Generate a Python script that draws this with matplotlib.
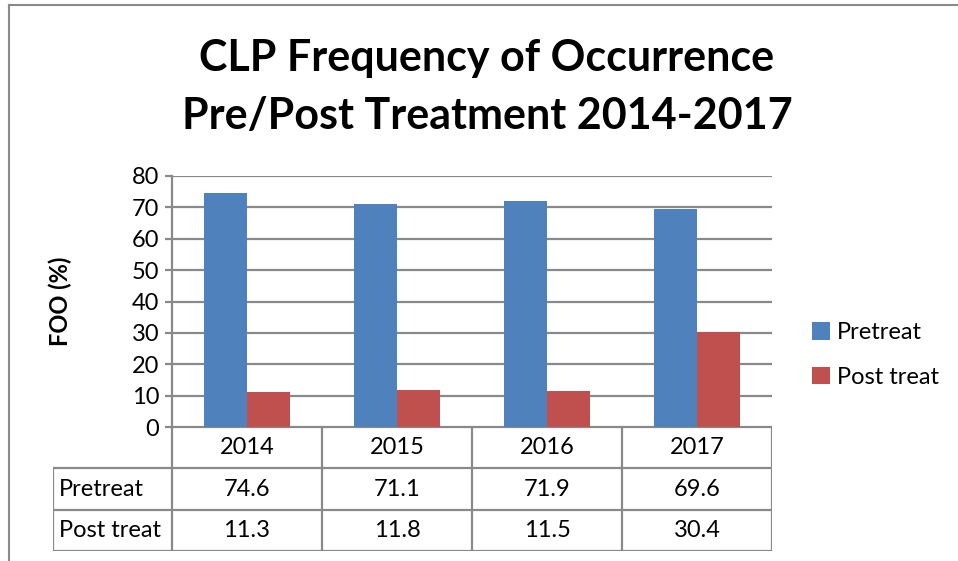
import numpy as np
import matplotlib.pyplot as plt
from matplotlib.lines import Line2D

# data
years = ['2014', '2015', '2016', '2017']
pretreat = [74.6, 71.1, 71.9, 69.6]
posttreat = [11.3, 11.8, 11.5, 30.4]
series_names = ['Pretreat', 'Post treat']
colors = ['#4F81BD', '#C0504D']
grid_c = '#898989'

plt.rcParams['font.family'] = ['Lato', 'DejaVu Sans']

W, H = 958, 561
fig = plt.figure(figsize=(W / 100, H / 100), dpi=100)

def fx(px):
    return px / W

def fy(py):
    return 1 - py / H

# outer chart border (top and left only visible)
fig.add_artist(Line2D([fx(9), fx(9)], [fy(5), fy(561)], color=grid_c, lw=1.5))
fig.add_artist(Line2D([fx(9), fx(958)], [fy(5), fy(5)], color=grid_c, lw=1.5))

# title
fig.text(fx(487), fy(58), 'CLP Frequency of Occurrence', ha='center', va='center',
         fontsize=31, fontweight='bold')
fig.text(fx(487), fy(116), 'Pre/Post Treatment 2014-2017', ha='center', va='center',
         fontsize=31, fontweight='bold')

# bar axes
x0, x1, y0, y1 = 172, 772, 176, 427
ax = fig.add_axes([fx(x0), fy(y1), fx(x1 - x0), (y1 - y0) / H])
x = np.arange(len(years))
w = 0.286
ax.bar(x - w / 2, pretreat, w, color=colors[0], label=series_names[0], zorder=3)
ax.bar(x + w / 2, posttreat, w, color=colors[1], label=series_names[1], zorder=3)
ax.set_xlim(-0.5, len(years) - 0.5)
ax.set_ylim(0, 80)
ax.set_yticks(range(0, 81, 10))
ax.yaxis.grid(True, color=grid_c, lw=1.6, zorder=0)
ax.set_xticks([])
for s in ['top', 'right', 'bottom']:
    ax.spines[s].set_visible(False)
ax.spines['left'].set_color(grid_c)
ax.spines['left'].set_linewidth(1.6)
ax.tick_params(axis='y', direction='out', length=5, width=1.6, color=grid_c,
               labelsize=17, pad=4)
ax.set_ylabel('FOO (%)', fontsize=17, fontweight='bold')
ax.yaxis.set_label_coords(-(x0 - 72) / (x1 - x0), 0.5)

# legend
ax.legend(loc='center left', bbox_to_anchor=(fx(805), fy(355)), bbox_transform=fig.transFigure,
          frameon=False, fontsize=17, handlelength=0.75, handleheight=0.75,
          handletextpad=0.3, labelspacing=1.0, borderaxespad=0, borderpad=0.3)

# data table below
tx0, ty1 = 53, 551
lab_w = (x0 - tx0) / 150.0
tab = fig.add_axes([fx(tx0), fy(ty1), fx(x1 - tx0), (ty1 - y1) / H])
tab.set_xlim(-0.5 - lab_w, len(years) - 0.5)
tab.set_ylim(3, 0)
tab.axis('off')
lk = dict(color=grid_c, lw=1.6, solid_capstyle='projecting')
# horizontal lines
tab.plot([-0.5, len(years) - 0.5], [0, 0], **lk)
for r in [1, 2, 3]:
    tab.plot([-0.5 - lab_w, len(years) - 0.5], [r, r], **lk)
# vertical lines
for c in range(len(years) + 1):
    tab.plot([c - 0.5, c - 0.5], [0, 3], **lk)
tab.plot([-0.5 - lab_w, -0.5 - lab_w], [1, 3], **lk)

for i, yr in enumerate(years):
    tab.text(i, 0.5, yr, ha='center', va='center', fontsize=17)
rows = [pretreat, posttreat]
for r, (name, vals) in enumerate(zip(series_names, rows)):
    tab.text(-0.5 - lab_w + 0.04, r + 1.5, name, ha='left', va='center', fontsize=17)
    for i, v in enumerate(vals):
        tab.text(i, r + 1.5, f'{v:.1f}', ha='center', va='center', fontsize=17)

plt.savefig('out.png', dpi=100)
plt.close()
